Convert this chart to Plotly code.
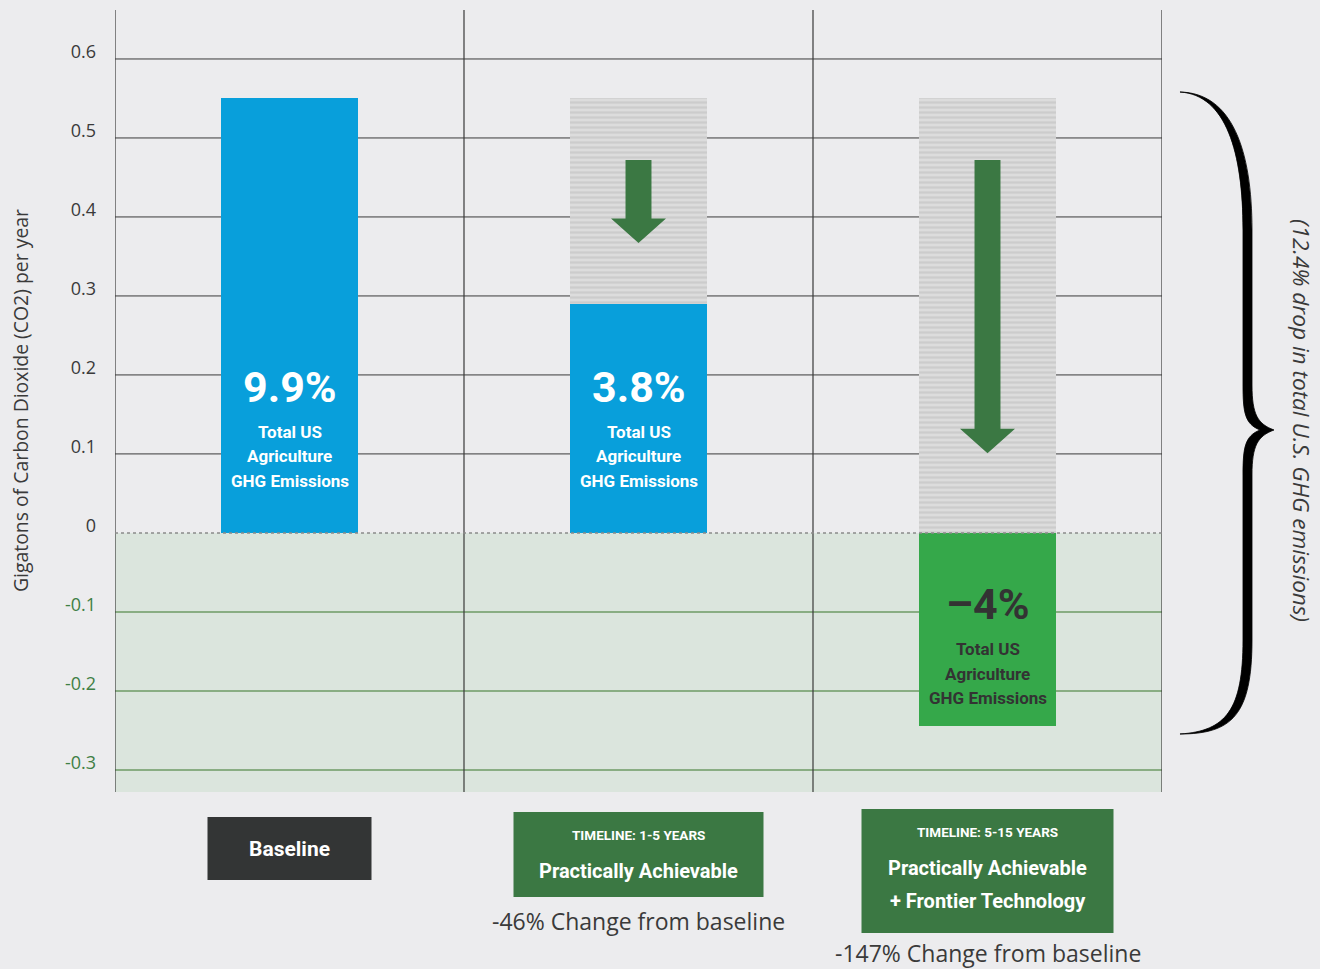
import plotly.graph_objects as go

# ---------------- data ----------------
categories = ["Baseline", "Practically Achievable", "Practically Achievable + Frontier Technology"]
emissions = [0.55, 0.29, -0.245]          # Gt CO2 / year
baseline_value = 0.55
pct_labels = ["9.9%", "3.8%", "–4%"]
sub_label_lines = ["Total US", "Agriculture", "GHG Emissions"]
timeline_labels = [None, "TIMELINE: 1-5 YEARS", "TIMELINE: 5-15 YEARS"]
scenario_titles = [["Baseline"], ["Practically Achievable"], ["Practically Achievable", "+ Frontier Technology"]]
change_labels = [None, "-46% Change from baseline", "-147% Change from baseline"]
tick_values = [-0.3, -0.2, -0.1, 0, 0.1, 0.2, 0.3, 0.4, 0.5, 0.6]
tick_labels = ["-0.3", "-0.2", "-0.1", "0", "0.1", "0.2", "0.3", "0.4", "0.5", "0.6"]
arrow_top = 0.472
arrow_tips = [None, 0.367, 0.101]
y_title = "Gigatons of Carbon Dioxide (CO2) per year"
brace_text = "(12.4% drop in total U.S. GHG emissions)"

# ---------------- style ----------------
BG = "#ececee"
BLUE = "#089fdb"
GREEN_BAR = "#35a84a"
DARK_GREEN = "#3b7843"
NEG_REGION = "#dbe5dd"
GRID = "#3a3a3a"
NEG_GRID = "#6e9a64"
TEXT = "#3a3a3a"
NEG_TICK = "#3f7f45"
COND = "Roboto, sans-serif"
REG = "Open Sans, sans-serif"

Y_MIN, Y_MAX = -0.328, 0.662
X_MIN, X_MAX = -0.5, 2.5
BAR_W = 0.393
L, R, T, B = 115, 158, 10, 177
W, H = 1320, 969
PW, PH = W - L - R, H - T - B

xs = list(range(len(categories)))


def px_x(p):
    return (p - L) / PW


def px_y(p):
    return (T + PH - p) / PH


def data_to_paper_x(x):
    return (x - X_MIN) / (X_MAX - X_MIN)


fig = go.Figure()

# hatched "removed emissions" bars
hx = [x for x, v in zip(xs, emissions) if v < baseline_value]
fig.add_trace(go.Bar(
    x=hx, y=[baseline_value] * len(hx), width=BAR_W,
    marker=dict(color="#d8d8d8", line=dict(width=0),
                pattern=dict(shape="-", fgcolor="#bcbcbc", bgcolor="#dcdcdc", size=5, solidity=0.45)),
    hoverinfo="skip", showlegend=False))

# actual emission bars
colors = [BLUE if v >= 0 else GREEN_BAR for v in emissions]
fig.add_trace(go.Bar(x=xs, y=emissions, width=BAR_W,
                     marker=dict(color=colors, line=dict(width=0)),
                     showlegend=False))

shapes = []
# negative region background
shapes.append(dict(type="rect", xref="paper", yref="y", x0=0, x1=1, y0=Y_MIN, y1=0,
                   fillcolor=NEG_REGION, line=dict(width=0), layer="below"))
# horizontal grid lines
for v in tick_values:
    if v > 0:
        shapes.append(dict(type="line", xref="paper", yref="y", x0=0, x1=1, y0=v, y1=v,
                           line=dict(color=GRID, width=1), layer="below"))
    elif v < 0:
        shapes.append(dict(type="line", xref="paper", yref="y", x0=0, x1=1, y0=v, y1=v,
                           line=dict(color=NEG_GRID, width=1.5), layer="below"))
shapes.append(dict(type="line", xref="paper", yref="y", x0=0, x1=1, y0=0, y1=0,
                   line=dict(color="#8a8a8a", width=1.5, dash="dot"), layer="above"))
# vertical separators
for i in range(len(categories) + 1):
    xv = X_MIN + i
    shapes.append(dict(type="line", xref="x", yref="paper", x0=xv, x1=xv, y0=0, y1=1,
                       line=dict(color=GRID, width=1.2), layer="below"))

# down arrows
for x, tip in zip(xs, arrow_tips):
    if tip is None:
        continue
    sw, hw = 0.0372, 0.0788
    head = tip + 0.031
    path = (f"M {x-sw},{arrow_top} L {x+sw},{arrow_top} L {x+sw},{head} L {x+hw},{head} "
            f"L {x},{tip} L {x-hw},{head} L {x-sw},{head} Z")
    shapes.append(dict(type="path", xref="x", yref="y", path=path,
                       fillcolor=DARK_GREEN, line=dict(width=0), layer="above"))

# curly brace (pixel geometry converted to paper coords)
brace_px = [
    ("M", [(1180, 92)]),
    ("C", [(1232, 93), (1252, 150), (1252, 230)]),
    ("L", [(1252, 385)]),
    ("C", [(1252, 415), (1258, 424), (1274, 430)]),
    ("C", [(1258, 436), (1252, 445), (1252, 475)]),
    ("L", [(1252, 640)]),
    ("C", [(1252, 715), (1232, 734), (1180, 734)]),
    ("C", [(1226, 731), (1243, 710), (1243, 640)]),
    ("L", [(1243, 475)]),
    ("C", [(1243, 447), (1245, 436), (1260, 430)]),
    ("C", [(1245, 424), (1243, 413), (1243, 385)]),
    ("L", [(1243, 230)]),
    ("C", [(1243, 152), (1226, 95), (1180, 92)]),
]
bp = ""
for cmd, pts in brace_px:
    bp += cmd + " " + " ".join(f"{px_x(a):.5f},{px_y(b):.5f}" for a, b in pts) + " "
bp += "Z"
shapes.append(dict(type="path", xref="paper", yref="paper", path=bp,
                   fillcolor="#000000", line=dict(color="#000000", width=0.8), layer="above"))

annotations = []
# text inside bars
for x, v, pct in zip(xs, emissions, pct_labels):
    col = "#ffffff" if v >= 0 else "#333333"
    base_y = 0.185 if v >= 0 else -0.09
    annotations.append(dict(x=x, y=base_y, xref="x", yref="y", text=f"<b>{pct}</b>",
                            showarrow=False, xanchor="center",
                            font=dict(family=COND, size=43, color=col)))
    for k, line in enumerate(sub_label_lines):
        annotations.append(dict(x=x, y=base_y - 0.057 - 0.031 * k, xref="x", yref="y",
                                text=f"<b>{line}</b>", showarrow=False, xanchor="center",
                                font=dict(family=COND, size=17, color=col)))

# bottom boxes
box_specs = [
    dict(w=164, top=817, bot=880, lines=[(849, 21)]),
    dict(w=250, top=812, bot=897, lines=[(835, 13.5), (871, 20)]),
    dict(w=252, top=809, bot=933, lines=[(832, 13.5), (868, 20), (901, 20)]),
]
change_y = [None, 921, 953]
for x, spec, tl, titles, ch, cy in zip(xs, box_specs, timeline_labels, scenario_titles, change_labels, change_y):
    cx = data_to_paper_x(x)
    hw = spec["w"] / 2 / PW
    fill = "#333535" if tl is None else DARK_GREEN
    shapes.append(dict(type="rect", xref="paper", yref="paper", x0=cx - hw, x1=cx + hw,
                       y0=px_y(spec["bot"]), y1=px_y(spec["top"]), fillcolor=fill,
                       line=dict(width=0), layer="above"))
    texts = ([tl] if tl else []) + titles
    for t, (ly, fs) in zip(texts, spec["lines"]):
        annotations.append(dict(x=cx, y=px_y(ly), xref="paper", yref="paper", text=f"<b>{t}</b>",
                                showarrow=False, xanchor="center", yanchor="middle",
                                font=dict(family=COND, size=fs, color="#ffffff")))
    if ch:
        annotations.append(dict(x=cx, y=px_y(cy), xref="paper", yref="paper", text=ch,
                                showarrow=False, xanchor="center", yanchor="middle",
                                font=dict(family=REG, size=23, color=TEXT)))

# y axis title
annotations.append(dict(x=px_x(20), y=px_y(401), xref="paper", yref="paper", text=y_title,
                        textangle=-90, showarrow=False, xanchor="center", yanchor="middle",
                        font=dict(family=REG, size=19.4, color=TEXT)))
# brace text
annotations.append(dict(x=px_x(1302), y=px_y(420), xref="paper", yref="paper", text=brace_text,
                        textangle=90, showarrow=False, xanchor="center", yanchor="middle",
                        font=dict(family=REG, size=22.6, color=TEXT, style="italic")))

ticktext = [f"<span style='color:{NEG_TICK}'>{t}</span>" if v < 0 else t
            for v, t in zip(tick_values, tick_labels)]

fig.update_layout(
    width=W, height=H, margin=dict(l=L, r=R, t=T, b=B),
    paper_bgcolor=BG, plot_bgcolor=BG, barmode="overlay", bargap=0,
    shapes=shapes, annotations=annotations, showlegend=False,
    xaxis=dict(range=[X_MIN, X_MAX], showgrid=False, zeroline=False, showticklabels=False,
               showline=False, fixedrange=True),
    yaxis=dict(range=[Y_MIN, Y_MAX], tickvals=tick_values, ticktext=ticktext, showgrid=False,
               zeroline=False, showline=False, ticks="", ticklabelstandoff=18,
               ticklabelshift=-7,
               tickfont=dict(family=REG, size=18, color=TEXT), fixedrange=True),
    font=dict(family=REG, color=TEXT),
)

fig.write_html("out.html")
